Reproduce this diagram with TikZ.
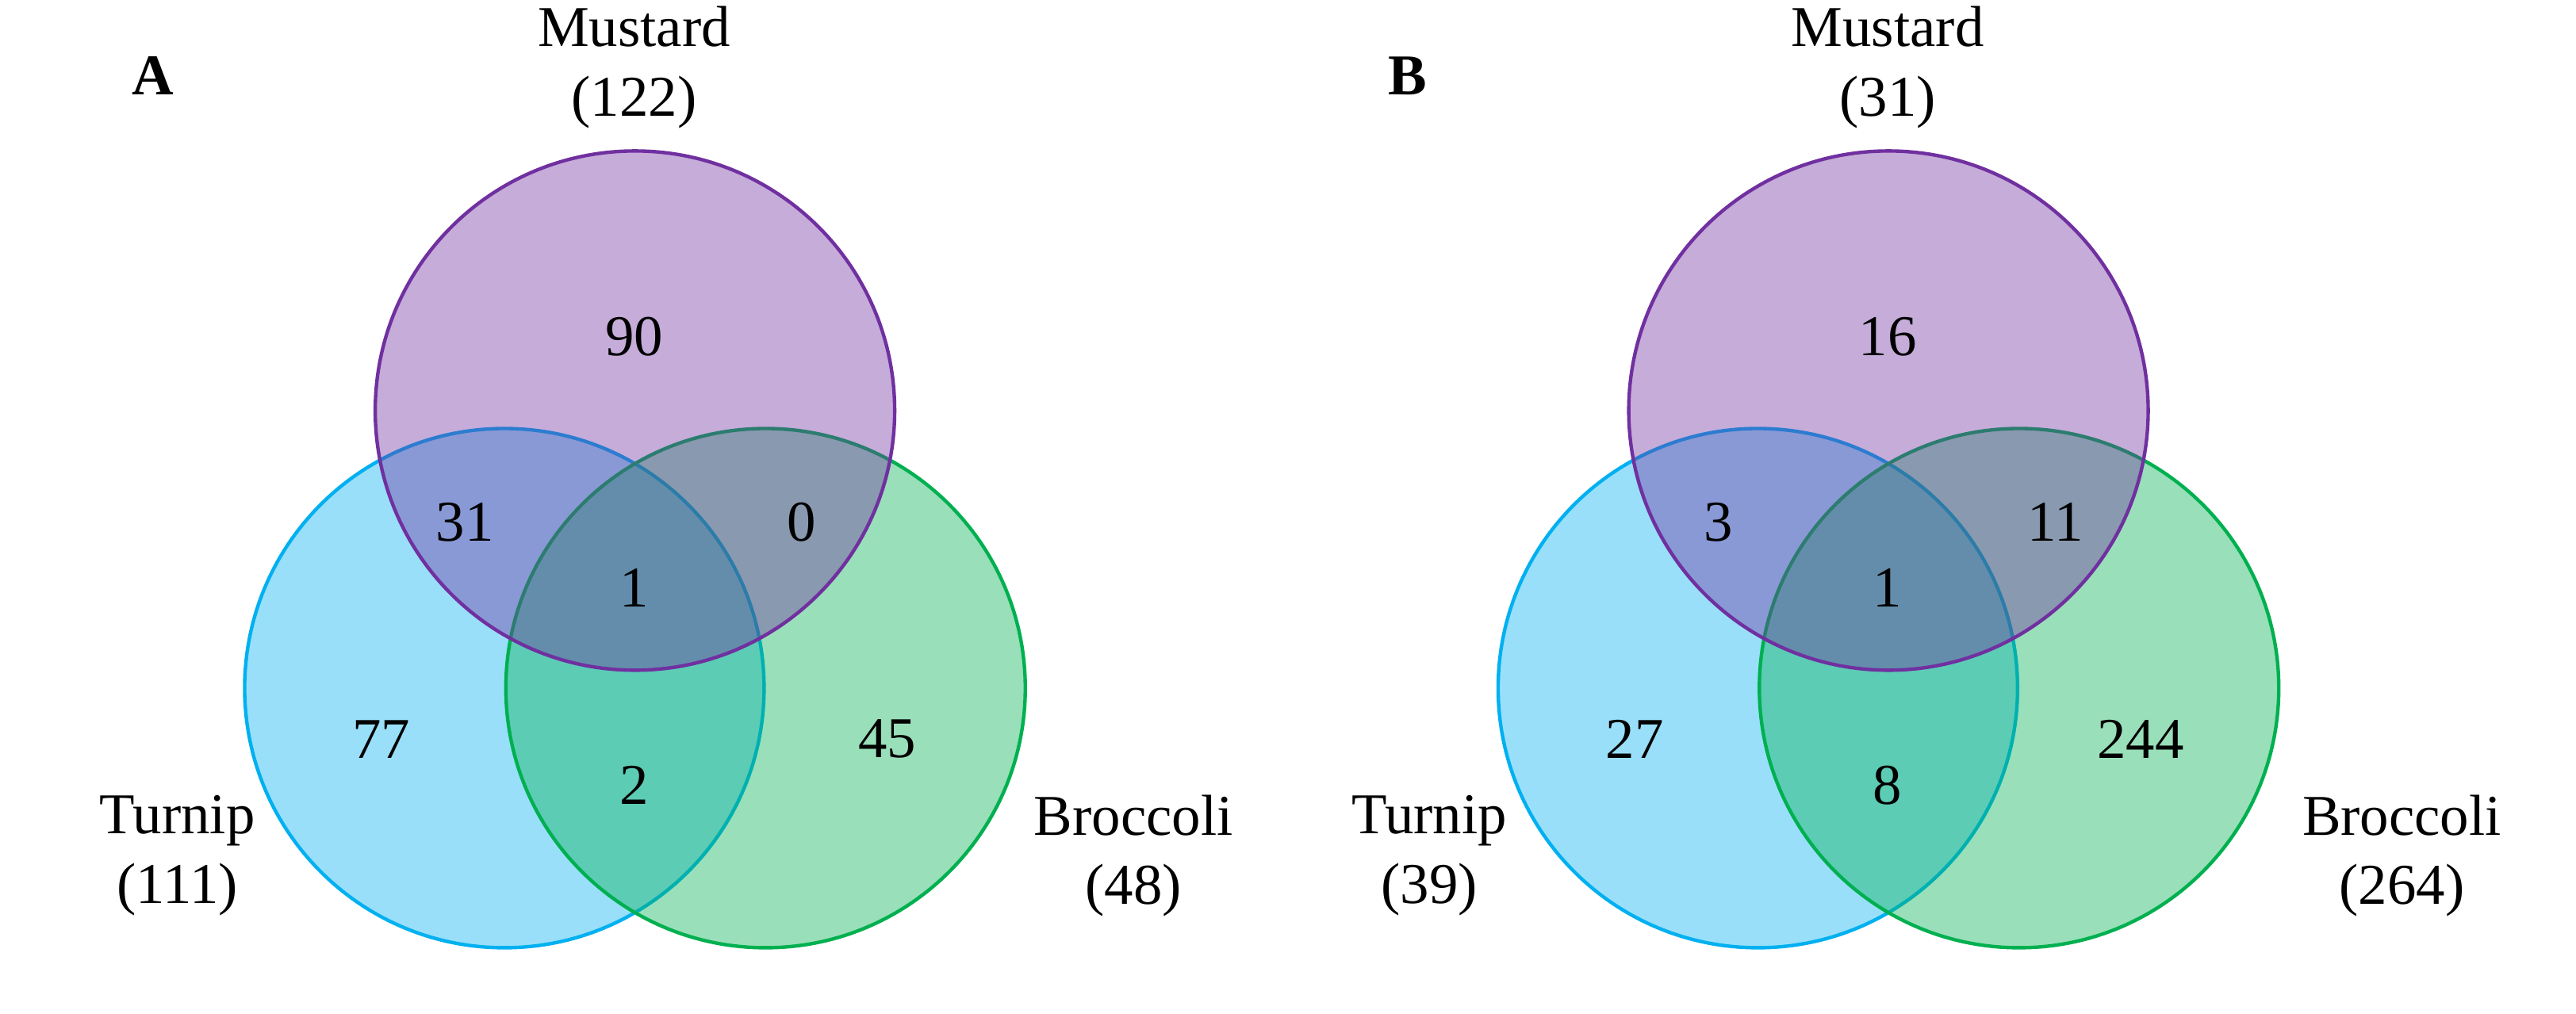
\documentclass[tikz,border=0pt]{standalone}
\usepackage{fontspec}
\setmainfont{Liberation Serif}
\definecolor{mustardc}{HTML}{7030A0}
\definecolor{turnipc}{HTML}{00B0F0}
\definecolor{broccolic}{HTML}{00B050}
\begin{document}
\begin{tikzpicture}[x=0.01cm, y=-0.01cm, every node/.style={font=\fontsize{10}{12}\selectfont},
  setc/.style={circle,draw,line width=0.6pt,fill opacity=0.4,minimum size=3.16cm,inner sep=0pt},
  lbl/.style={align=center,inner sep=1pt},
  num/.style={inner sep=1pt}]
\useasboundingbox (0,0) rectangle (1568,617);
% panel A
\node[setc,draw=turnipc,fill=turnipc] (turA) at (307,419) {};
\node[setc,draw=broccolic,fill=broccolic] (broA) at (466,419) {};
\node[setc,draw=mustardc,fill=mustardc] (musA) at (386.5,250) {};
\node[font=\fontsize{10}{12}\selectfont\bfseries] (panA) at (93,46) {A};
\node[lbl] (musAl) at (386,41) {Mustard\\(122)};
\node[lbl] (turAl) at (108,521) {Turnip\\(111)};
\node[lbl] (broAl) at (690,521) {Broccoli\\(48)};
\node[num] (a1) at (386,205) {90};
\node[num] (a2) at (283,318) {31};
\node[num] (a3) at (488,318) {0};
\node[num] (a4) at (386,358) {1};
\node[num] (a5) at (232,450) {77};
\node[num] (a6) at (386,478) {2};
\node[num] (a7) at (540,450) {45};
% panel B
\node[setc,draw=turnipc,fill=turnipc] (turB) at (1070,419) {};
\node[setc,draw=broccolic,fill=broccolic] (broB) at (1229,419) {};
\node[setc,draw=mustardc,fill=mustardc] (musB) at (1149.5,250) {};
\node[font=\fontsize{10}{12}\selectfont\bfseries] (panB) at (857,46) {B};
\node[lbl] (musBl) at (1149,41) {Mustard\\(31)};
\node[lbl] (turBl) at (870,521) {Turnip\\(39)};
\node[lbl] (broBl) at (1462,521) {Broccoli\\(264)};
\node[num] (b1) at (1149,205) {16};
\node[num] (b2) at (1046,318) {3};
\node[num] (b3) at (1251,318) {11};
\node[num] (b4) at (1149,358) {1};
\node[num] (b5) at (995,450) {27};
\node[num] (b6) at (1149,478) {8};
\node[num] (b7) at (1303,450) {244};
\end{tikzpicture}
\end{document}
